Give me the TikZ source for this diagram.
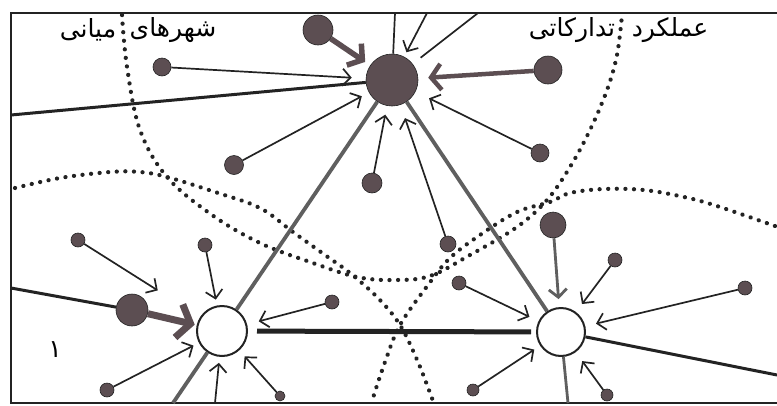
\documentclass[tikz,border=0pt]{standalone}
\usepackage{fontspec}
\newfontfamily\arabicfont[Script=Arabic]{DejaVu Sans}
\TeXXeTstate=1
\usetikzlibrary{arrows.meta}
\definecolor{dotc}{RGB}{92,78,82}
\definecolor{ink}{RGB}{35,35,35}
\definecolor{grayl}{RGB}{95,95,95}
\begin{document}
\begin{tikzpicture}[x=1pt,y=-1pt,
  dotn/.style={circle,fill=dotc,draw=ink,line width=0.6pt,inner sep=0pt,minimum size=#1},
  hollow/.style={circle,fill=white,draw=ink,line width=2pt,inner sep=0pt,minimum size=#1},
  framel/.style={draw=ink,line width=2pt},
  dotline/.style={draw=ink,line width=4.2pt,dash pattern=on 0.1pt off 8.5pt,line cap=round},
  thinarr/.style={draw=ink,line width=1.7pt,-{Straight Barb[length=8pt,width=17pt]}},
  thinl/.style={draw=ink,line width=1.7pt},
  grayline/.style={draw=grayl,line width=3.8pt},
  darkline/.style={draw=ink,line width=3pt},
  bigarr/.style={draw=dotc,line width=#1,-{Straight Barb[length=10pt,width=26pt]}},
  label/.style={font=\arabicfont\fontsize{25}{28}\selectfont,inner sep=0pt}
]
\useasboundingbox (0,0) rectangle (777,405);
% frame
\coordinate (f1) at (11,13);
\coordinate (f2) at (777,13);
\coordinate (f3) at (11,403);
\coordinate (f4) at (777,403);
\draw[framel] (f2) -- (f1) -- (f3) -- (f4);
% dotted boundaries
\draw[dotline] plot[smooth,tension=0.6] coordinates {(122,15) (127,67) (140,130) (167,177) (212,215) (260,243) (310,262) (357,277) (395,280) (430,276) (470,255) (517,227) (547,200) (570,167) (590,130) (607,90) (617,55) (622,15)};
\draw[dotline] plot[smooth,tension=0.6] coordinates {(15,188) (60,178) (110,172) (140,172) (167,177) (215,192) (260,208) (293,232) (325,255) (350,273) (378,298) (400,325) (418,362) (433,401)};
\draw[dotline] plot[smooth,tension=0.6] coordinates {(775,226) (717,206) (684,197) (644,190) (604,189) (570,193) (550,202) (517,212) (480,235) (450,258) (428,285) (400,325) (385,362) (372,401)};
% texts
\node[label] (t1) at (173,30) {\beginR شهرهای\endR};
\node[label] (t2) at (88,30) {\beginR میانی\endR};
\node[label] (t3) at (670,30) {\beginR عملکرد\endR};
\node[label] (t4) at (572,30) {\beginR تدارکاتی\endR};
\node[label] (t5) at (55,350) {۱};
% centres
\node[dotn=52pt] (T) at (392,80) {};
\node[hollow=50pt] (L) at (222,331) {};
\node[hollow=48pt] (R) at (561,332) {};
% dots
\node[dotn=30pt] (d1) at (318,30) {};
\node[dotn=18pt] (d2) at (162,67) {};
\node[dotn=28pt] (d3) at (548,70) {};
\node[dotn=19pt] (d4) at (234,165) {};
\node[dotn=20pt] (d5) at (372,183) {};
\node[dotn=16pt] (d6) at (448,244) {};
\node[dotn=18pt] (d7) at (540,153) {};
\node[dotn=14pt] (d8) at (78,240) {};
\node[dotn=14pt] (d9) at (205,245) {};
\node[dotn=32pt] (d10) at (132,310) {};
\node[dotn=14pt] (d11) at (107,390) {};
\node[dotn=10pt] (d12) at (280,396) {};
\node[dotn=14pt] (d13) at (332,302) {};
\node[dotn=14pt] (d14) at (459,283) {};
\node[dotn=26pt] (d15) at (553,225) {};
\node[dotn=14pt] (d16) at (615,260) {};
\node[dotn=14pt] (d17) at (745,288) {};
\node[dotn=12pt] (d18) at (607,395) {};
\node[dotn=12pt] (d19) at (473,390) {};
% frame coordinates
\coordinate (ct1) at (395,13);
\coordinate (ct2) at (427,13);
\coordinate (ct3) at (478,13);
\coordinate (cl1) at (11,115);
\coordinate (cl2) at (11,288);
\coordinate (cb1) at (215,403);
\coordinate (cb2) at (568,403);
\coordinate (cb3) at (173,403);
\coordinate (cr1) at (777,375);
% main links
\draw[grayline] (T) -- (L);
\draw[grayline] (L) -- (cb3);
\draw[grayline] (T) -- (R);
\draw[draw=ink,line width=5pt,shorten <=9pt,shorten >=5pt] (L) -- (R);
\draw[darkline] (cl1) -- (T);
\draw[darkline] (R) -- (cr1);
\draw[draw=grayl,line width=2.8pt] (R) -- (cb2);
\draw[darkline] (cl2) -- (d10);
% top centre
\draw[thinl] (ct1) -- (T);
\draw[thinarr,shorten >=5pt] (ct2) -- (T);
\draw[thinl,shorten >=10pt] (ct3) -- (T);
\draw[bigarr=5.5pt,shorten >=6pt] (d1) -- (T);
\draw[bigarr=4.5pt,shorten >=10pt] (d3) -- (T);
\draw[thinarr,shorten >=14pt] (d2) -- (T);
\draw[thinarr,shorten >=8pt] (d4) -- (T);
\draw[thinarr,shorten >=9pt] (d5) -- (T);
\draw[thinarr,shorten >=14pt] (d6) -- (T);
\draw[thinarr,shorten >=15pt] (d7) -- (T);
% left centre
\draw[thinarr,shorten >=50pt] (d8) -- (L);
\draw[thinarr,shorten >=6pt] (d9) -- (L);
\draw[draw=dotc,line width=7pt,-{Straight Barb[length=12pt,width=34pt]},shorten >=2pt] (d10) -- (L);
\draw[thinarr,shorten >=6pt] (d11) -- (L);
\draw[thinarr,shorten >=6pt] (cb1) -- (L);
\draw[thinarr,shorten >=8pt] (d12) -- (L);
\draw[thinarr,shorten >=12pt] (d13) -- (L);
% right centre
\draw[thinarr,shorten >=10pt] (d14) -- (R);
\draw[draw=grayl,line width=2.8pt,-{Straight Barb[length=8pt,width=18pt]},shorten >=8pt] (d15) -- (R);
\draw[thinarr,shorten >=10pt] (d16) -- (R);
\draw[thinarr,shorten >=11pt] (d17) -- (R);
\draw[thinarr,shorten >=11pt] (d18) -- (R);
\draw[thinarr,shorten >=7pt] (d19) -- (R);
\end{tikzpicture}
\end{document}
